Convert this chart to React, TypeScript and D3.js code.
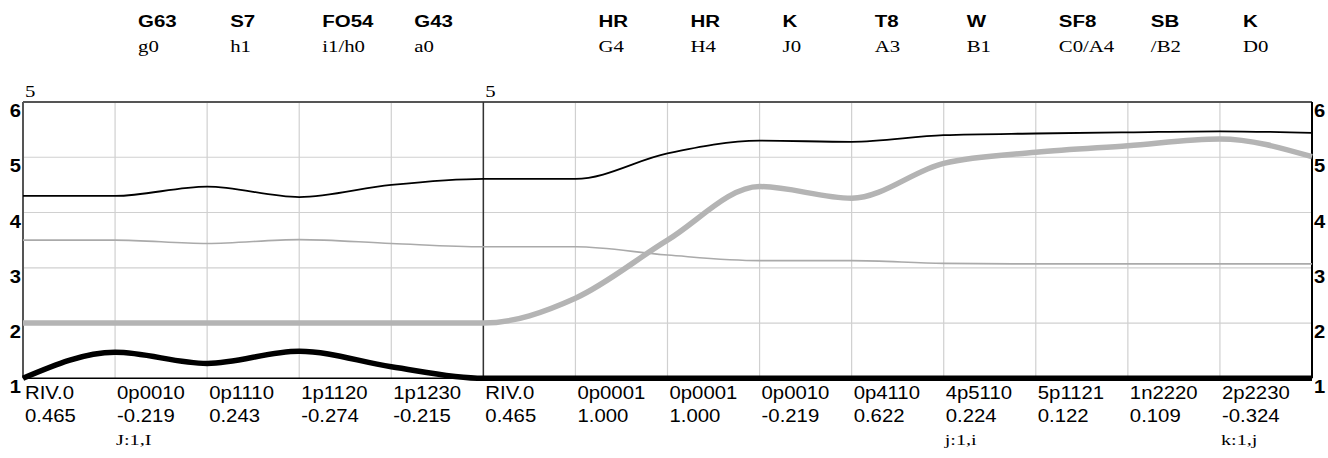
import * as d3 from 'd3'

const W = 1328
const H = 458

// bottom category rows
const names = ['RIV.0', '0p0010', '0p1110', '1p1120', '1p1230', 'RIV.0', '0p0001', '0p0001', '0p0010', '0p4110', '4p5110', '5p1121', '1n2220', '2p2230']
const scores = ['0.465', '-0.219', '0.243', '-0.274', '-0.215', '0.465', '1.000', '1.000', '-0.219', '0.622', '0.224', '0.122', '0.109', '-0.324']
const notes = ['', 'J:1,I', '', '', '', '', '', '', '', '', 'j:1,i', '', '', 'k:1,j']

// top annotations: index of the column they sit in
const topIdx = [1, 2, 3, 4, 6, 7, 8, 9, 10, 11, 12, 13]
const topBold = ['G63', 'S7', 'FO54', 'G43', 'HR', 'HR', 'K', 'T8', 'W', 'SF8', 'SB', 'K']
const topSub = ['g0', 'h1', 'i1/h0', 'a0', 'G4', 'H4', 'J0', 'A3', 'B1', 'C0/A4', '/B2', 'D0']

// panel markers
const panelIdx = [0, 5]
const panelLabel = ['5', '5']

const yTicks = [1, 2, 3, 4, 5, 6]

// series, one value per grid column (0..14)
const thinBlack = [4.3, 4.3, 4.47, 4.28, 4.5, 4.61, 4.61, 5.07, 5.3, 5.28, 5.4, 5.43, 5.45, 5.47, 5.44]
const thinGray = [3.5, 3.5, 3.44, 3.51, 3.44, 3.38, 3.38, 3.23, 3.13, 3.13, 3.08, 3.07, 3.07, 3.07, 3.07]
const thickGray = [2.0, 2.0, 2.0, 2.0, 2.0, 2.0, 2.45, 3.5, 4.47, 4.26, 4.89, 5.09, 5.21, 5.33, 5.01]
const thickBlack = [1.0, 1.47, 1.27, 1.49, 1.21, 1.0, 1.0, 1.0, 1.0, 1.0, 1.0, 1.0, 1.0, 1.0, 1.0]

const SANS = '"Liberation Sans", Arial, sans-serif'
const SERIF = '"Liberation Serif", "Times New Roman", serif'

// text drawn a bit wider than the font, like the source render
const T = ({ x, y, sx = 1, anchor = 'start', family, size, bold = false, children }: any) => (
  <text
    transform={`translate(${x},${y}) scale(${sx},1)`}
    textAnchor={anchor}
    fontFamily={family}
    fontSize={size}
    fontWeight={bold ? 'bold' : 'normal'}
    fill="#000"
  >
    {children}
  </text>
)

const App = () => {
  const x = d3.scaleLinear().domain([0, 14]).range([23, 1312])
  const y = d3.scaleLinear().domain([1, 6]).range([378.3, 102])

  const line = d3
    .line<number>()
    .x((_, i) => x(i))
    .y((d) => y(d))
    .curve(d3.curveMonotoneX)

  const cols = d3.range(15)

  return (
    <svg width={W} height={H} style={{ position: 'absolute', left: 0, top: 0, display: 'block' }}>
      <rect width={W} height={H} fill="#fff" />

      {/* top annotations */}
      {topBold.map((t, i) => (
        <g key={i}>
          <T x={x(topIdx[i]) + 23} y={27} sx={1.28} family={SANS} size={16} bold>
            {t}
          </T>
          <T x={x(topIdx[i]) + 23} y={51.5} sx={1.3} family={SERIF} size={16}>
            {topSub[i]}
          </T>
        </g>
      ))}

      {panelIdx.map((p, i) => (
        <T key={i} x={x(p) + 2} y={97} sx={1.3} family={SERIF} size={16}>
          {panelLabel[i]}
        </T>
      ))}

      {/* grid */}
      <g stroke="#d0d0d0" strokeWidth={1.2}>
        {cols.slice(1, 14).map((c) => (
          <line key={c} x1={x(c)} x2={x(c)} y1={y(6)} y2={y(1)} />
        ))}
        {yTicks.slice(1, 5).map((t) => (
          <line key={t} x1={x(0)} x2={x(14)} y1={y(t)} y2={y(t)} />
        ))}
      </g>

      {/* frame */}
      <line x1={x(0)} x2={x(14)} y1={y(6)} y2={y(6)} stroke="#555" strokeWidth={2} />
      <line x1={x(0)} x2={x(0)} y1={y(6)} y2={y(1)} stroke="#555" strokeWidth={2} />
      <line x1={x(14)} x2={x(14)} y1={y(6)} y2={y(1)} stroke="#000" strokeWidth={2} />
      <line x1={x(5)} x2={x(5)} y1={y(6)} y2={y(1)} stroke="#333" strokeWidth={1.5} />
      <line x1={x(0)} x2={x(14)} y1={y(1)} y2={y(1)} stroke="#000" strokeWidth={1.5} />

      {/* series */}
      <g fill="none" strokeLinejoin="round">
        <path d={line(thinGray) ?? ''} stroke="#aaa" strokeWidth={1.6} />
        <path d={line(thinBlack) ?? ''} stroke="#000" strokeWidth={1.8} />
        <path d={line(thickGray) ?? ''} stroke="#b4b4b4" strokeWidth={5.5} />
        <path d={line(thickBlack) ?? ''} stroke="#000" strokeWidth={5.5} />
      </g>

      {/* y axis labels both sides */}
      {yTicks.map((t) => (
        <g key={t}>
          <T x={21} y={y(t) + 15} sx={1.12} anchor="end" family={SANS} size={18} bold>
            {t}
          </T>
          <T x={1314} y={y(t) + 15} sx={1.12} family={SANS} size={18} bold>
            {t}
          </T>
        </g>
      ))}

      {/* bottom categories */}
      {names.map((n, i) => (
        <g key={i}>
          <T x={x(i) + 2} y={399} sx={1.13} family={SANS} size={18}>
            {n}
          </T>
          <T x={x(i) + 2} y={422} sx={1.13} family={SANS} size={18}>
            {scores[i]}
          </T>
          {notes[i] && (
            <T x={x(i) + 1} y={445} sx={1.35} family={SERIF} size={15}>
              {notes[i]}
            </T>
          )}
        </g>
      ))}
    </svg>
  )
}

export default App
